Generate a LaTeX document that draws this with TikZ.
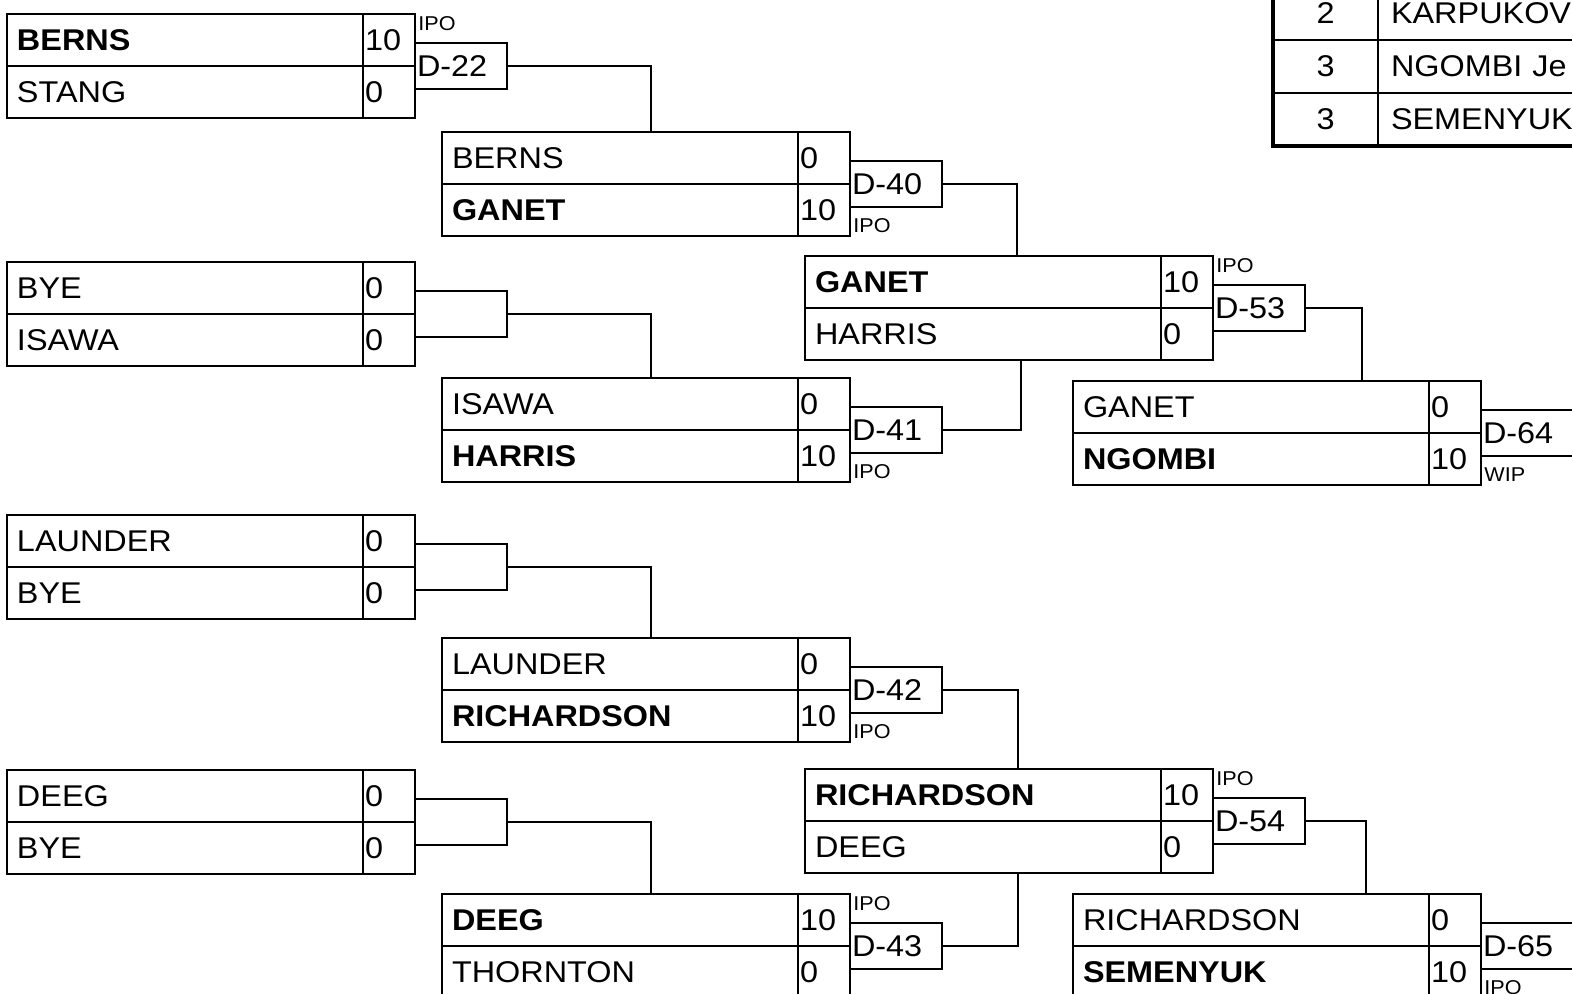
\documentclass[tikz,border=0pt]{standalone}
\usepackage{fontspec}
\setmainfont{Liberation Sans}[FakeStretch=1.08]
\usetikzlibrary{positioning}
\begin{document}
\begin{tikzpicture}[x=0.5pt, y=-0.5pt, node distance=0pt,
    name cell/.style={rectangle, draw, line width=1pt, anchor=north west, outer sep=0pt,
        minimum height=26pt, text width=168pt, inner xsep=5pt, inner ysep=0pt, align=left,
        font=\fontsize{15}{18}\selectfont},
    win/.style={font=\fontsize{15}{18}\selectfont\bfseries},
    score cell/.style={rectangle, draw, line width=1pt, outer sep=0pt, minimum height=26pt,
        text width=24pt, inner xsep=1pt, inner ysep=0pt, align=left,
        font=\fontsize{15}{18}\selectfont},
    result box/.style={rectangle, draw, line width=1pt, outer sep=0pt, minimum height=23pt,
        text width=44pt, inner xsep=1pt, inner ysep=0pt, align=left,
        font=\fontsize{15}{18}\selectfont},
    tag/.style={inner sep=0pt, anchor=west, font=\fontsize{10}{11}\selectfont},
    link/.style={line width=0.75pt},
    rank cell/.style={rectangle, draw, line width=1pt, anchor=north west, outer sep=0pt,
        minimum width=52.5pt, minimum height=26.5pt, font=\fontsize{15}{18}\selectfont},
    entry cell/.style={rectangle, draw, line width=1pt, outer sep=0pt, minimum height=26.5pt,
        text width=188pt, inner xsep=6.5pt, inner ysep=0pt, align=left,
        font=\fontsize{15}{18}\selectfont}]

    \useasboundingbox (0,0) rectangle (1572,994);

    % Round 1
    \node[name cell, win] (M1a) at (7,14) {BERNS};
    \node[score cell, right=of M1a] (M1as) {10};
    \node[name cell, below=of M1a] (M1b) {STANG};
    \node[score cell, right=of M1b] (M1bs) {0};
    \node[result box, right=of M1as.south east] (D22) {D-22};

    \node[name cell] (M2a) at (7,262) {BYE};
    \node[score cell, right=of M2a] (M2as) {0};
    \node[name cell, below=of M2a] (M2b) {ISAWA};
    \node[score cell, right=of M2b] (M2bs) {0};
    \node[result box, right=of M2as.south east] (Y2) {};

    \node[name cell] (M3a) at (7,515) {LAUNDER};
    \node[score cell, right=of M3a] (M3as) {0};
    \node[name cell, below=of M3a] (M3b) {BYE};
    \node[score cell, right=of M3b] (M3bs) {0};
    \node[result box, right=of M3as.south east] (Y3) {};

    \node[name cell] (M4a) at (7,770) {DEEG};
    \node[score cell, right=of M4a] (M4as) {0};
    \node[name cell, below=of M4a] (M4b) {BYE};
    \node[score cell, right=of M4b] (M4bs) {0};
    \node[result box, right=of M4as.south east] (Y4) {};

    % Round 2
    \node[name cell] (M5a) at (442,132) {BERNS};
    \node[score cell, right=of M5a] (M5as) {0};
    \node[name cell, win, below=of M5a] (M5b) {GANET};
    \node[score cell, right=of M5b] (M5bs) {10};
    \node[result box, right=of M5as.south east] (D40) {D-40};

    \node[name cell] (M6a) at (442,378) {ISAWA};
    \node[score cell, right=of M6a] (M6as) {0};
    \node[name cell, win, below=of M6a] (M6b) {HARRIS};
    \node[score cell, right=of M6b] (M6bs) {10};
    \node[result box, right=of M6as.south east] (D41) {D-41};

    \node[name cell] (M7a) at (442,638) {LAUNDER};
    \node[score cell, right=of M7a] (M7as) {0};
    \node[name cell, win, below=of M7a] (M7b) {RICHARDSON};
    \node[score cell, right=of M7b] (M7bs) {10};
    \node[result box, right=of M7as.south east] (D42) {D-42};

    \node[name cell, win] (M8a) at (442,894) {DEEG};
    \node[score cell, right=of M8a] (M8as) {10};
    \node[name cell, below=of M8a] (M8b) {THORNTON};
    \node[score cell, right=of M8b] (M8bs) {0};
    \node[result box, right=of M8as.south east] (D43) {D-43};

    % Round 3
    \node[name cell, win] (M9a) at (805,256) {GANET};
    \node[score cell, right=of M9a] (M9as) {10};
    \node[name cell, below=of M9a] (M9b) {HARRIS};
    \node[score cell, right=of M9b] (M9bs) {0};
    \node[result box, right=of M9as.south east] (D53) {D-53};

    \node[name cell, win] (M10a) at (805,769) {RICHARDSON};
    \node[score cell, right=of M10a] (M10as) {10};
    \node[name cell, below=of M10a] (M10b) {DEEG};
    \node[score cell, right=of M10b] (M10bs) {0};
    \node[result box, right=of M10as.south east] (D54) {D-54};

    % Round 4
    \node[name cell] (M11a) at (1073,381) {GANET};
    \node[score cell, right=of M11a] (M11as) {0};
    \node[name cell, win, below=of M11a] (M11b) {NGOMBI};
    \node[score cell, right=of M11b] (M11bs) {10};
    \node[result box, right=of M11as.south east] (D64) {D-64};

    \node[name cell] (M12a) at (1073,894) {RICHARDSON};
    \node[score cell, right=of M12a] (M12as) {0};
    \node[name cell, win, below=of M12a] (M12b) {SEMENYUK};
    \node[score cell, right=of M12b] (M12bs) {10};
    \node[result box, right=of M12as.south east] (D65) {D-65};

    % Decision tags
    \node[tag] at ([xshift=1.5pt, yshift=9.5pt]D22.north west) {IPO};
    \node[tag] at ([xshift=1.5pt, yshift=-9.5pt]D40.south west) {IPO};
    \node[tag] at ([xshift=1.5pt, yshift=-9.5pt]D41.south west) {IPO};
    \node[tag] at ([xshift=1.5pt, yshift=-9.5pt]D42.south west) {IPO};
    \node[tag] at ([xshift=1.5pt, yshift=9.5pt]D43.north west) {IPO};
    \node[tag] at ([xshift=1.5pt, yshift=9.5pt]D53.north west) {IPO};
    \node[tag] at ([xshift=1.5pt, yshift=9.5pt]D54.north west) {IPO};
    \node[tag] at ([xshift=1.5pt, yshift=-9.5pt]D64.south west) {WIP};
    \node[tag] at ([xshift=1.5pt, yshift=-9.5pt]D65.south west) {IPO};

    % Links to the next round
    \draw[link] (D22.east) -| ([xshift=104.5pt]M5a.north west);
    \draw[link] (Y2.east) -| ([xshift=104.5pt]M6a.north west);
    \draw[link] (Y3.east) -| ([xshift=104.5pt]M7a.north west);
    \draw[link] (Y4.east) -| ([xshift=104.5pt]M8a.north west);
    \draw[link] (D40.east) -| ([xshift=106pt]M9a.north west);
    \draw[link] (D41.east) -| ([xshift=108pt]M9b.south west);
    \draw[link] (D42.east) -| ([xshift=106.5pt]M10a.north west);
    \draw[link] (D43.east) -| ([xshift=106.5pt]M10b.south west);
    \draw[link] (D53.east) -| ([xshift=144.5pt]M11a.north west);
    \draw[link] (D54.east) -| ([xshift=146.5pt]M12a.north west);

    % Ranking table
    \node[rank cell] (T1) at (1273,-13) {2};
    \node[entry cell, right=of T1] (T1n) {KARPUKOV};
    \node[rank cell, below=of T1] (T2) {3};
    \node[entry cell, right=of T2] (T2n) {NGOMBI Je};
    \node[rank cell, below=of T2] (T3) {3};
    \node[entry cell, right=of T3] (T3n) {SEMENYUK};
    \draw[line width=2pt] (T1.north west) rectangle (T3n.south east);

\end{tikzpicture}
\end{document}
